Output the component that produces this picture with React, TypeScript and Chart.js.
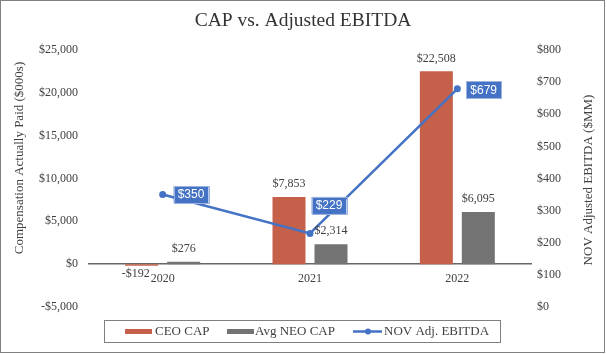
import React, { useEffect, useRef } from "react";
import { Chart, registerables } from "chart.js";

Chart.register(...registerables);

const categories = ["2020", "2021", "2022"];
const ceoCap = [-192, 7853, 22508];
const avgNeoCap = [276, 2314, 6095];
const adjEbitda = [350, 229, 679];
const leftTicks = { min: -5000, max: 25000, step: 5000 };
const rightTicks = { min: 0, max: 800, step: 100 };

// label placement for the EBITDA boxes: [dx, dy, anchor]
const ebitdaLabelPlacement: [number, number, string][] = [
  [11, 0, "left"],
  [19, -28, "center"],
  [9, 1, "left"],
];

const SERIF = "'Liberation Serif', 'Times New Roman', serif";
const SANS = "'Liberation Sans', Arial, sans-serif";
const RED = "#C5604B";
const GREY = "#737373";
const BLUE = "#4472C4";
const TEXT = "#404040";

function money(v: number): string {
  const s = "$" + Math.abs(v).toLocaleString("en-US");
  return v < 0 ? "-" + s : s;
}

const overlayPlugin = {
  id: "overlay",
  afterDatasetsDraw(chart: any) {
    const ctx = chart.ctx as CanvasRenderingContext2D;
    ctx.save();
    // bar labels
    ctx.font = `12px ${SERIF}`;
    ctx.fillStyle = TEXT;
    ctx.textAlign = "center";
    ctx.textBaseline = "middle";
    [0, 1].forEach((di) => {
      const meta = chart.getDatasetMeta(di);
      const vals = chart.data.datasets[di].data as number[];
      meta.data.forEach((el: any, i: number) => {
        const v = vals[i];
        if (v >= 0) {
          ctx.fillText(money(v), el.x, el.y - 13);
        } else {
          ctx.fillText(money(v), el.x - 6, el.y + 8);
        }
      });
    });
    // line labels
    const lmeta = chart.getDatasetMeta(2);
    ctx.font = `12px ${SANS}`;
    lmeta.data.forEach((el: any, i: number) => {
      const txt = money(adjEbitda[i]);
      const w = ctx.measureText(txt).width + 8;
      const h = 17;
      const [dx, dy, anchor] = ebitdaLabelPlacement[i];
      const cx = anchor === "left" ? el.x + dx + w / 2 : el.x + dx;
      const cy = el.y + dy;
      ctx.fillStyle = BLUE;
      ctx.fillRect(cx - w / 2, cy - h / 2, w, h);
      ctx.strokeStyle = "#9DB3DE";
      ctx.lineWidth = 1;
      ctx.strokeRect(Math.round(cx - w / 2) + 0.5, Math.round(cy - h / 2) + 0.5, Math.round(w), h);
      ctx.fillStyle = "#FFFFFF";
      ctx.textAlign = "center";
      ctx.fillText(txt, cx, cy + 0.5);
    });
    ctx.restore();
  },
  afterDraw(chart: any) {
    const ctx = chart.ctx as CanvasRenderingContext2D;
    ctx.save();
    // outer border
    ctx.strokeStyle = "#808080";
    ctx.lineWidth = 1;
    ctx.strokeRect(0.5, 0.5, 604, 352);
    // title
    ctx.fillStyle = "#333333";
    ctx.font = `19.5px ${SERIF}`;
    ctx.textAlign = "center";
    ctx.textBaseline = "middle";
    ctx.fillText("CAP vs. Adjusted EBITDA", 303, 21);
    // axis titles
    ctx.font = `13px ${SERIF}`;
    ctx.fillStyle = TEXT;
    ctx.save();
    ctx.translate(20, 158);
    ctx.rotate(-Math.PI / 2);
    ctx.fillText("Compensation Actually Paid ($000s)", 0, 0);
    ctx.restore();
    ctx.save();
    ctx.translate(589, 180);
    ctx.rotate(-Math.PI / 2);
    ctx.fillText("NOV Adjusted EBITDA ($MM)", 0, 0);
    ctx.restore();
    // legend
    ctx.strokeStyle = "#7F7F7F";
    ctx.strokeRect(104.5, 320.5, 396, 22);
    ctx.textAlign = "left";
    ctx.font = `13px ${SERIF}`;
    const ly = 331.5;
    ctx.fillStyle = RED;
    ctx.fillRect(125, 329, 27, 5);
    ctx.fillStyle = TEXT;
    ctx.fillText("CEO CAP", 155, ly);
    ctx.fillStyle = GREY;
    ctx.fillRect(227, 329, 27, 5);
    ctx.fillStyle = TEXT;
    ctx.fillText("Avg NEO CAP", 255, ly);
    ctx.strokeStyle = BLUE;
    ctx.lineWidth = 2.5;
    ctx.beginPath();
    ctx.moveTo(353, ly);
    ctx.lineTo(382, ly);
    ctx.stroke();
    ctx.fillStyle = BLUE;
    ctx.beginPath();
    ctx.arc(368, ly, 3, 0, Math.PI * 2);
    ctx.fill();
    ctx.fillStyle = TEXT;
    ctx.fillText("NOV Adj. EBITDA", 384, ly);
    ctx.restore();
  },
};

export default function App() {
  const ref = useRef<HTMLCanvasElement | null>(null);
  useEffect(() => {
    if (!ref.current) return;
    const chart = new Chart(ref.current, {
      type: "bar",
      data: {
        labels: categories,
        datasets: [
          {
            label: "CEO CAP",
            data: ceoCap,
            backgroundColor: RED,
            yAxisID: "y",
            order: 1,
            categoryPercentage: 0.57,
            barPercentage: 0.786,
          } as any,
          {
            label: "Avg NEO CAP",
            data: avgNeoCap,
            backgroundColor: GREY,
            yAxisID: "y",
            order: 1,
            categoryPercentage: 0.57,
            barPercentage: 0.786,
          } as any,
          {
            type: "line",
            label: "NOV Adj. EBITDA",
            data: adjEbitda,
            borderColor: BLUE,
            backgroundColor: BLUE,
            borderWidth: 2.5,
            pointRadius: 3.5,
            pointBackgroundColor: BLUE,
            pointBorderWidth: 0,
            yAxisID: "y1",
            order: 0,
            tension: 0,
          } as any,
        ],
      },
      options: {
        responsive: false,
        animation: false,
        layout: { padding: { top: 50, bottom: 47, left: 0, right: 0 } },
        plugins: {
          legend: { display: false },
          title: { display: false },
          tooltip: { enabled: false },
        },
        scales: {
          x: {
            position: { y: 0 } as any,
            grid: { display: false, drawTicks: false },
            border: { display: true, color: "#666666", width: 1.5 },
            ticks: {
              padding: 7,
              color: TEXT,
              font: { family: SERIF, size: 12 },
            },
          },
          y: {
            position: "left",
            min: leftTicks.min,
            max: leftTicks.max,
            grid: { display: false, drawTicks: false },
            border: { display: false },
            ticks: {
              stepSize: leftTicks.step,
              padding: 11,
              color: TEXT,
              font: { family: SERIF, size: 12 },
              callback: (v: any) => money(Number(v)),
            },
            afterFit: (s: any) => {
              s.width = 89;
            },
          },
          y1: {
            position: "right",
            min: rightTicks.min,
            max: rightTicks.max,
            grid: { display: false, drawTicks: false },
            border: { display: false },
            ticks: {
              stepSize: rightTicks.step,
              padding: 6,
              color: TEXT,
              font: { family: SERIF, size: 12 },
              callback: (v: any) => money(Number(v)),
            },
            afterFit: (s: any) => {
              s.width = 76;
            },
          },
        },
      } as any,
      plugins: [overlayPlugin],
    });
    return () => chart.destroy();
  }, []);
  return (
    <div style={{ position: "fixed", left: 0, top: 0, width: 607, height: 354, background: "#fff" }}>
      <canvas ref={ref} width={607} height={354} style={{ display: "block" }} />
    </div>
  );
}
